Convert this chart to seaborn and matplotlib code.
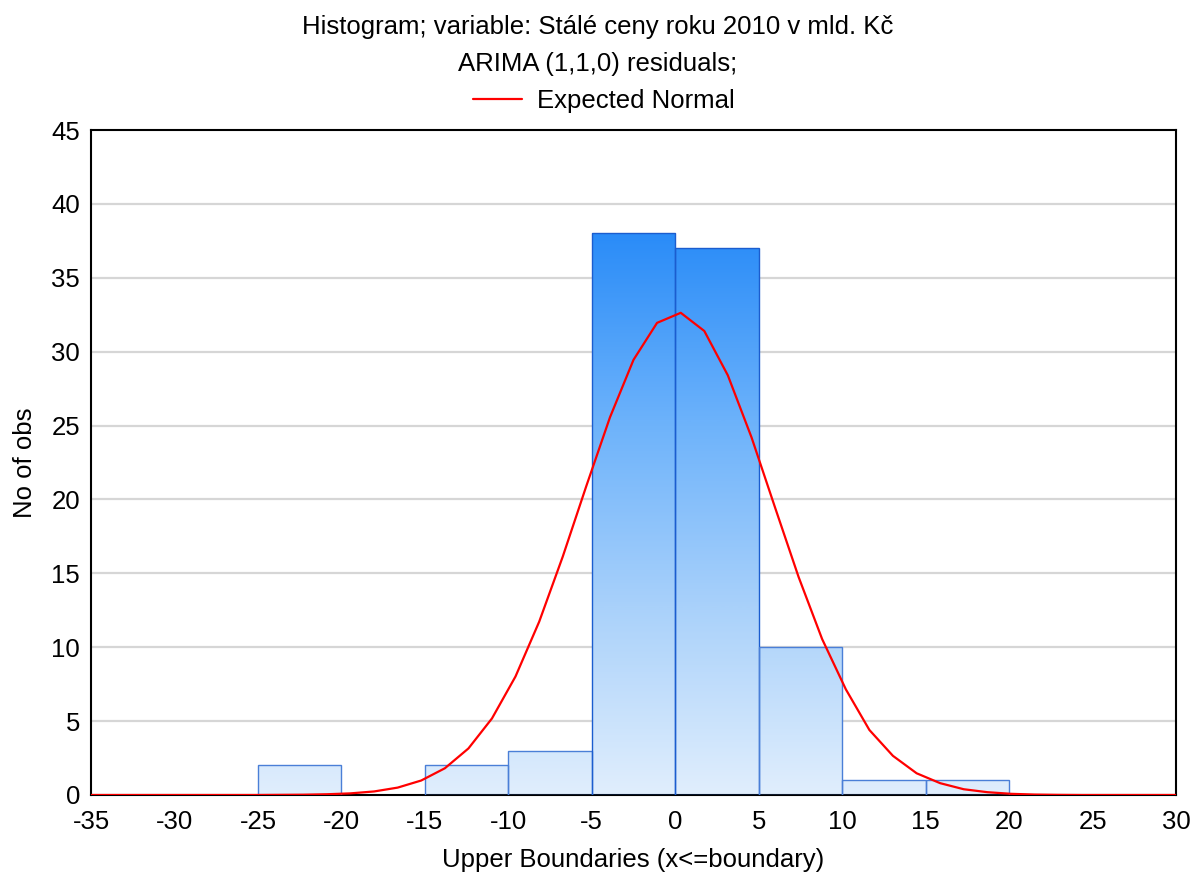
import numpy as np
import matplotlib
matplotlib.use("Agg")
import matplotlib.pyplot as plt
from matplotlib.colors import LinearSegmentedColormap
from matplotlib.lines import Line2D
import seaborn as sns

# Histogram of ARIMA(1,1,0) residuals: bin upper boundaries and counts
bin_edges = [-35, -30, -25, -20, -15, -10, -5, 0, 5, 10, 15, 20, 25, 30]
bin_counts = [0, 0, 2, 0, 2, 3, 38, 37, 10, 1, 1, 0, 0]

# Expected normal curve (number of observations per bin width)
curve_x = [-35.00, -33.59, -32.17, -30.76, -29.35, -27.93, -26.52, -25.11,
           -23.70, -22.28, -20.87, -19.46, -18.04, -16.63, -15.22, -13.80,
           -12.39, -10.98, -9.57, -8.15, -6.74, -5.33, -3.91, -2.50, -1.09,
           0.33, 1.74, 3.15, 4.57, 5.98, 7.39, 8.80, 10.22, 11.63, 13.04,
           14.46, 15.87, 17.28, 18.70, 20.11, 21.52, 22.93, 24.35, 25.76,
           27.17, 28.59, 30.00]
curve_y = [0.00, 0.00, 0.00, 0.00, 0.00, 0.00, 0.00, 0.00,
           0.01, 0.02, 0.05, 0.11, 0.24, 0.50, 0.98, 1.81,
           3.15, 5.18, 8.02, 11.73, 16.13, 20.90, 25.56, 29.45, 31.95,
           32.63, 31.40, 28.40, 24.20, 19.45, 14.75, 10.55, 7.15, 4.40, 2.65,
           1.47, 0.80, 0.39, 0.19, 0.08, 0.03, 0.01, 0.00, 0.00,
           0.00, 0.00, 0.00]

title_lines = ["Histogram; variable: Stálé ceny roku 2010 v mld. Kč",
               "ARIMA (1,1,0) residuals;"]
legend_label = "Expected Normal"
x_label = "Upper Boundaries (x<=boundary)"
y_label = "No of obs"
x_ticks = [-35, -30, -25, -20, -15, -10, -5, 0, 5, 10, 15, 20, 25, 30]
y_ticks = [0, 5, 10, 15, 20, 25, 30, 35, 40, 45]

FS = 18.5

sns.set_style("white")
plt.rcParams["font.family"] = ["Liberation Sans", "DejaVu Sans"]
plt.rcParams["text.color"] = "black"
plt.rcParams["axes.labelcolor"] = "black"
plt.rcParams["xtick.color"] = "black"
plt.rcParams["ytick.color"] = "black"

fig = plt.figure(figsize=(11.96, 8.85), dpi=100)
ax = fig.add_axes([0.0761, 0.1017, 0.9072, 0.7514])

centers = [(a + b) / 2 for a, b in zip(bin_edges[:-1], bin_edges[1:])]
sns.histplot(x=centers, weights=bin_counts, bins=bin_edges, ax=ax,
             stat="count", element="bars", fill=True, legend=False,
             facecolor="none", edgecolor="#2a63d0", linewidth=1.0, zorder=3)

# vertical gradient fill, shared across all bars (by absolute height)
grad_cmap = LinearSegmentedColormap.from_list(
    "bluegrad", ["#e0eefd", "#a9d1fa", "#6cb2fb", "#2a8cf8"])
ys = np.linspace(0, 45, 400)
grad = np.clip(ys / 38.0, 0, 1)[:, None]
bars = [p for p in ax.patches]
for p, c in zip(bars, bin_counts):
    if c <= 0:
        p.set_visible(False)
        continue
    im = ax.imshow(grad, extent=[-35, 30, 0, 45], origin="lower",
                   aspect="auto", cmap=grad_cmap, vmin=0, vmax=1,
                   interpolation="bilinear", zorder=2)
    im.set_clip_path(p)
    p.set_edgecolor("#1b5dcf" if c >= 30 else "#4a7fd7")

sns.lineplot(x=curve_x, y=curve_y, ax=ax, color="#ff0000", linewidth=1.6,
             zorder=4, legend=False)

ax.set_xlim(-35, 30)
ax.set_ylim(0, 45)
ax.set_aspect("auto")
ax.set_xticks(x_ticks)
ax.set_xticklabels([str(t) for t in x_ticks])
ax.set_yticks(y_ticks)
ax.set_yticklabels([str(t) for t in y_ticks])
for yv in y_ticks[1:-1]:
    ax.axhline(yv, color="#d6d6d6", linewidth=1.6, zorder=1)

ax.tick_params(axis="x", direction="in", length=5, width=1.3, colors="black",
               labelsize=FS, pad=11, top=False)
ax.tick_params(axis="y", direction="in", length=5, width=1.3, colors="black",
               labelsize=FS, pad=8, left=False, right=True)
for s in ax.spines.values():
    s.set_color("black")
    s.set_linewidth(1.5)
    s.set_visible(True)

ax.set_xlabel(x_label, fontsize=FS, labelpad=10)
ax.set_ylabel(y_label, fontsize=FS, labelpad=10)

fig.text(0.5, 1 - 27 / 885, title_lines[0], ha="center", va="center", fontsize=FS)
fig.text(0.5, 1 - 64 / 885, title_lines[1], ha="center", va="center", fontsize=FS)
handle = Line2D([0], [0], color="#ff0000", linewidth=1.6)
fig.legend([handle], [legend_label], loc="center", bbox_to_anchor=(0.505, 1 - 101 / 885),
           frameon=False, fontsize=FS, handlelength=1.9, handletextpad=0.6)

fig.savefig("out.png", dpi=100)
